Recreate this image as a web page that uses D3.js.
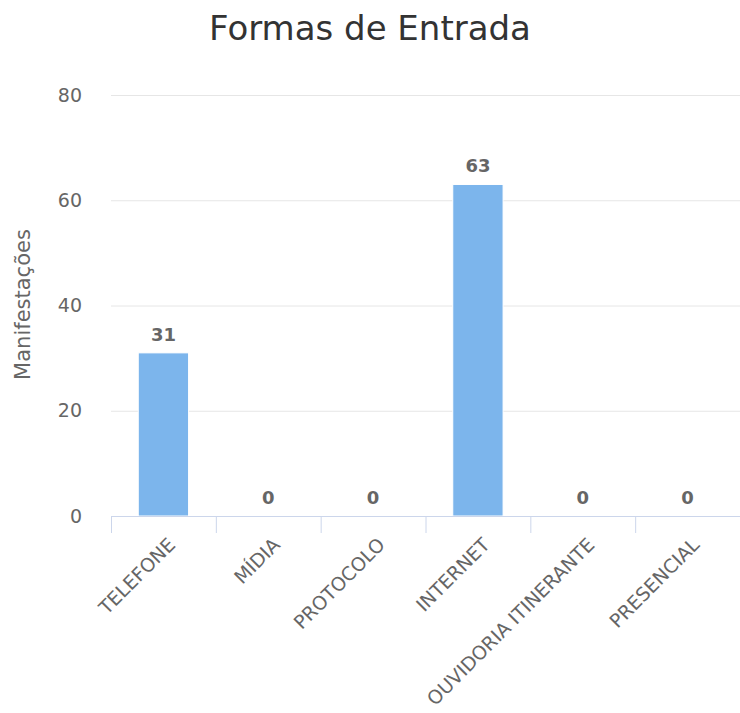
<!DOCTYPE html>
<html>
<head>
<meta charset="utf-8">
<script src="https://cdn.jsdelivr.net/npm/d3@7"></script>
<style>
  body { margin: 0; background: #fff; }
  svg { font-family: "DejaVu Sans", sans-serif; }
</style>
</head>
<body>
<div id="chart"></div>
<script>
// chart data
var categories = ["TELEFONE", "MÍDIA", "PROTOCOLO", "INTERNET", "OUVIDORIA ITINERANTE", "PRESENCIAL"];
var values = [31, 0, 0, 63, 0, 0];
var yTicks = [0, 20, 40, 60, 80];
var chartTitle = "Formas de Entrada";
var yTitle = "Manifestações";

var WIDTH = 740, HEIGHT = 713;
var margin = {top: 95, right: 0, bottom: 197, left: 111};
var width = WIDTH - margin.left - margin.right,
    height = HEIGHT - margin.top - margin.bottom;

var svg = d3.select("#chart").append("svg")
  .attr("width", WIDTH)
  .attr("height", HEIGHT);

svg.append("text")
  .attr("x", 370)
  .attr("y", 40)
  .attr("text-anchor", "middle")
  .style("font-size", "34px")
  .style("fill", "#333")
  .text(chartTitle);

var g = svg.append("g").attr("transform", `translate(${margin.left},${margin.top})`);

var x = d3.scaleBand().domain(categories).range([0, width]).paddingInner(0.52).paddingOuter(0.26);
var y = d3.scaleLinear().domain([0, 80]).range([height, 0]);

// grid lines
g.selectAll("line.grid")
  .data(yTicks.filter(d => d > 0))
  .join("line")
    .attr("class", "grid")
    .attr("x1", 0).attr("x2", width)
    .attr("y1", d => y(d) + 0.5).attr("y2", d => y(d) + 0.5)
    .attr("stroke", "#e6e6e6");

// y labels
g.selectAll("text.ytick")
  .data(yTicks)
  .join("text")
    .attr("class", "ytick")
    .attr("x", -29)
    .attr("y", d => y(d))
    .attr("dy", "0.35em")
    .attr("text-anchor", "end")
    .style("font-size", "19px")
    .style("fill", "#666")
    .text(d => d);

svg.append("text")
  .attr("transform", `translate(30,${margin.top + height / 2 - 1}) rotate(-90)`)
  .attr("text-anchor", "middle")
  .style("font-size", "21px")
  .style("fill", "#666")
  .text(yTitle);

// bars
g.selectAll("rect.bar")
  .data(values)
  .join("rect")
    .attr("class", "bar")
    .attr("x", (d, i) => x(categories[i]))
    .attr("y", d => y(d))
    .attr("width", x.bandwidth())
    .attr("height", d => height - y(d))
    .attr("fill", "#7cb5ec")
    .attr("stroke", "#fff")
    .attr("stroke-width", 1);

// data labels
g.selectAll("text.label")
  .data(values)
  .join("text")
    .attr("class", "label")
    .attr("x", (d, i) => x(categories[i]) + x.bandwidth() / 2)
    .attr("y", d => y(d) - 12)
    .attr("text-anchor", "middle")
    .style("font-size", "18px")
    .style("font-weight", "bold")
    .style("fill", "#666")
    .text(d => d);

// x axis
var tickPos = d3.range(categories.length + 1).map(i => i * width / categories.length);
g.append("line")
  .attr("x1", 0).attr("x2", width)
  .attr("y1", height + 0.5).attr("y2", height + 0.5)
  .attr("stroke", "#ccd6eb");
g.selectAll("line.xtick")
  .data(tickPos)
  .join("line")
    .attr("class", "xtick")
    .attr("x1", d => d + 0.5).attr("x2", d => d + 0.5)
    .attr("y1", height).attr("y2", height + 17)
    .attr("stroke", "#ccd6eb");

g.selectAll("text.xlabel")
  .data(categories)
  .join("text")
    .attr("class", "xlabel")
    .attr("transform", d => `translate(${x(d) + x.bandwidth() / 2 + 13},${height + 30}) rotate(-45)`)
    .attr("text-anchor", "end")
    .style("font-size", "19px")
    .style("fill", "#666")
    .text(d => d);
</script>
</body>
</html>
